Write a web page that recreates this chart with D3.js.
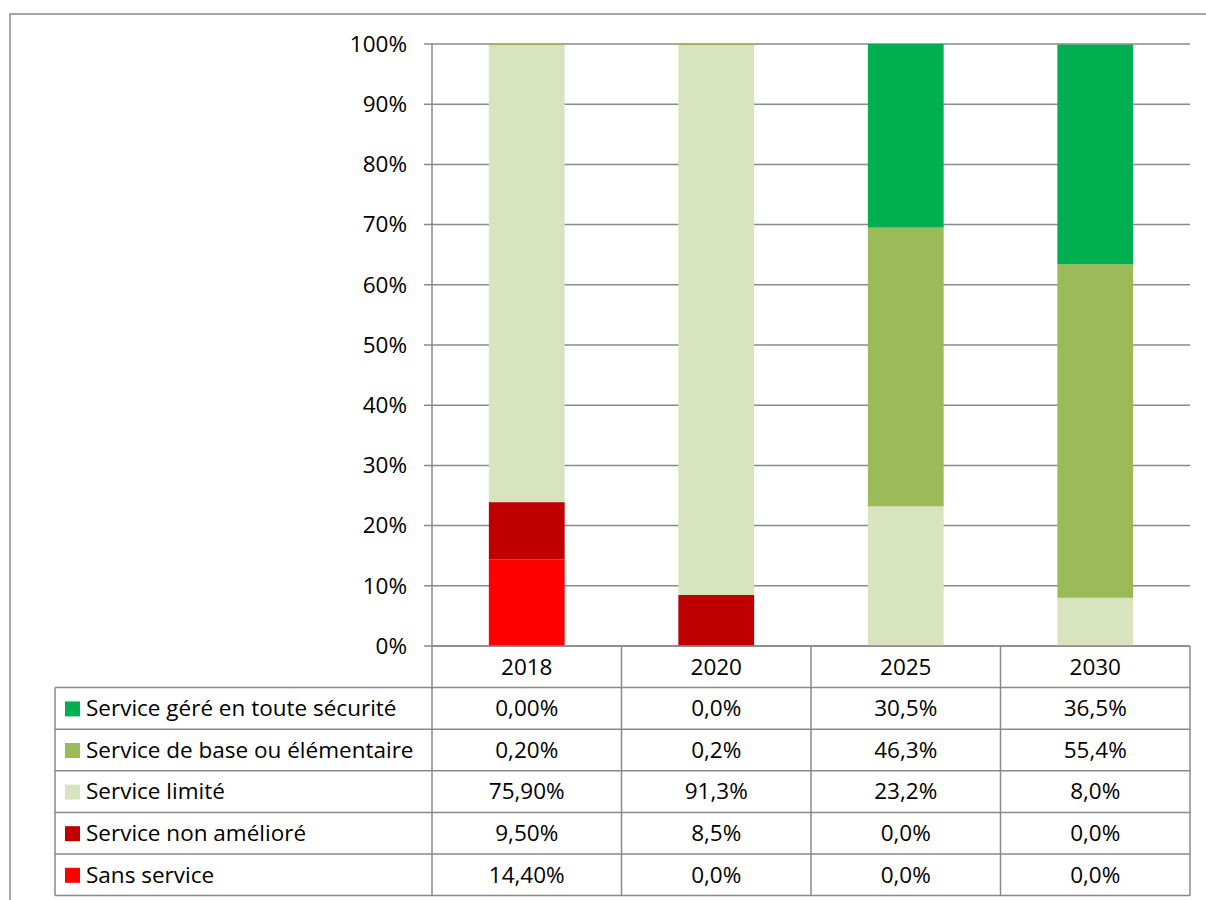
<!DOCTYPE html>
<html><head><meta charset="utf-8">
<script src="https://cdn.jsdelivr.net/npm/d3@7"></script>
<style>body{margin:0;background:#fff}svg{display:block}text{font-family:"Open Sans",sans-serif}</style>
</head><body>
<script>
const categories = ["2018","2020","2025","2030"];
const seriesNames = ["Service géré en toute sécurité","Service de base ou élémentaire","Service limité","Service non amélioré","Sans service"];
const seriesColors = ["#00B050","#9BBB59","#D7E4BD","#C00000","#FF0000"];
const gere = [0.00, 0.0, 30.5, 36.5];
const base = [0.20, 0.2, 46.3, 55.4];
const limite = [75.90, 91.3, 23.2, 8.0];
const nonAmeliore = [9.50, 8.5, 0.0, 0.0];
const sansService = [14.40, 0.0, 0.0, 0.0];
const decimals = [2, 1, 1, 1];
const yTicks = [0,10,20,30,40,50,60,70,80,90,100];

(function(){
const series = [gere, base, limite, nonAmeliore, sansService];
const W = 1206, H = 900;
const FS = 22.5;
const svg = d3.select("body").append("svg").attr("width", W).attr("height", H);
const grey = "#898989";

svg.append("rect").attr("x", 10).attr("y", 14).attr("width", 1210).attr("height", 900)
  .attr("fill", "none").attr("stroke", grey).attr("stroke-width", 1.5);

const pL = 432, pR = 1190, pT = 44, pB = 646;
const x = d3.scaleBand().domain(categories).range([pL, pR]).paddingInner(0.6).paddingOuter(0.3);
const xc = d3.scaleBand().domain(categories).range([pL, pR]);
const y = d3.scaleLinear().domain([0, 100]).range([pB, pT]);

svg.append("g").selectAll("line").data(yTicks).join("line")
  .attr("x1", pL - 8).attr("x2", pR).attr("y1", d => y(d)).attr("y2", d => y(d))
  .attr("stroke", grey).attr("stroke-width", 1.5);

svg.append("g").selectAll("text").data(yTicks).join("text")
  .attr("x", 407).attr("y", d => y(d)).attr("dy", "0.35em").attr("text-anchor", "end")
  .attr("font-size", FS).attr("fill", "#000").text(d => d + "%");

const order = [4,3,2,1,0];
categories.forEach((c, i) => {
  let acc = 0;
  order.forEach(s => {
    const v = series[s][i];
    if (v > 0) {
      svg.append("rect").attr("x", x(c)).attr("width", x.bandwidth())
        .attr("y", y(acc + v)).attr("height", y(acc) - y(acc + v))
        .attr("fill", seriesColors[s]);
    }
    acc += v;
  });
});

svg.append("line").attr("x1", pL).attr("x2", pL).attr("y1", pT).attr("y2", pB)
  .attr("stroke", grey).attr("stroke-width", 1.5);

const rowH = 41.6;
const tableTop = pB;
const tableLeft = 55;
const nRows = seriesNames.length;
const tBottom = tableTop + rowH * (nRows + 1);
const tg = svg.append("g");
tg.append("line").attr("x1", pL).attr("x2", pR).attr("y1", tableTop).attr("y2", tableTop).attr("stroke", grey).attr("stroke-width", 1.5);
for (let r = 1; r <= nRows + 1; r++) {
  tg.append("line").attr("x1", tableLeft).attr("x2", pR)
    .attr("y1", tableTop + rowH * r).attr("y2", tableTop + rowH * r)
    .attr("stroke", grey).attr("stroke-width", 1.5);
}
tg.append("line").attr("x1", tableLeft).attr("x2", tableLeft).attr("y1", tableTop + rowH).attr("y2", tBottom).attr("stroke", grey).attr("stroke-width", 1.5);
[pL, ...categories.map(c => xc(c) + xc.bandwidth())].forEach(xx => {
  tg.append("line").attr("x1", xx).attr("x2", xx).attr("y1", tableTop).attr("y2", tBottom).attr("stroke", grey).attr("stroke-width", 1.5);
});
tg.selectAll("text.h").data(categories).join("text").attr("class", "h")
  .attr("x", c => xc(c) + xc.bandwidth() / 2).attr("y", tableTop + rowH / 2).attr("dy", "0.35em")
  .attr("text-anchor", "middle").attr("font-size", FS).text(c => c);
const loc = d3.formatLocale({decimal: ",", thousands: " ", grouping: [3], currency: ["", "€"]});
seriesNames.forEach((name, s) => {
  const cy = tableTop + rowH * (s + 1) + rowH / 2;
  tg.append("rect").attr("x", 65).attr("y", cy - 7).attr("width", 15).attr("height", 15).attr("fill", seriesColors[s]);
  tg.append("text").attr("x", 86).attr("y", cy).attr("dy", "0.35em").attr("font-size", FS).text(name);
  categories.forEach((c, i) => {
    tg.append("text").attr("x", xc(c) + xc.bandwidth() / 2).attr("y", cy).attr("dy", "0.35em")
      .attr("text-anchor", "middle").attr("font-size", FS)
      .text(loc.format("." + decimals[i] + "f")(series[s][i]) + "%");
  });
});
})();
</script>
</body></html>
